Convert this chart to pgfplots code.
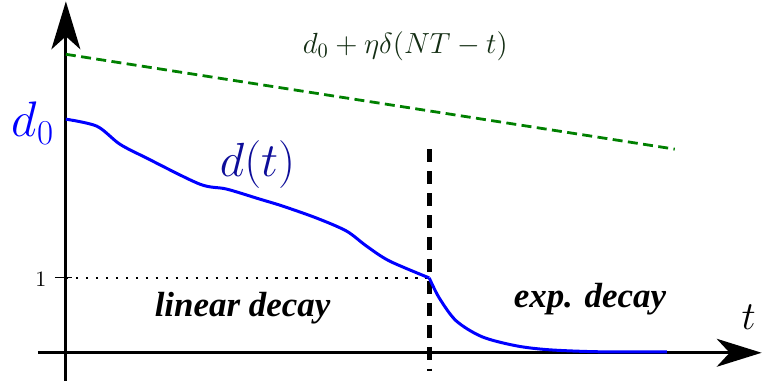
\RequirePackage{fix-cm}
\documentclass[border=0pt]{standalone}
\usepackage{fontspec}
\newfontfamily\timesfont{Liberation Serif}
\usepackage{pgfplots}
\pgfplotsset{compat=1.18}
\usetikzlibrary{arrows.meta}

\definecolor{dblue}{rgb}{0.05,0.05,0.6}
\definecolor{dgreen}{rgb}{0,0.5,0}
\definecolor{fgreen}{rgb}{0.08,0.18,0.08}

\begin{document}
\begin{tikzpicture}
\begin{axis}[
    scale only axis,
    width=381.5pt, height=191.5pt,
    xmin=-66, xmax=697,
    ymin=-31, ymax=352,
    hide axis,
    clip=false,
]
% frame the picture
\addplot[draw=none] coordinates {(-66,-31) (697,352)};
% axes
\addplot[black, line width=1.4pt, -{Stealth[length=22.5pt,width=14pt,inset=6.5pt]}]
    coordinates {(-28,0) (697,0)};
\addplot[black, line width=1.4pt, -{Stealth[length=24pt,width=14.5pt,inset=6.5pt]}]
    coordinates {(0,-28) (0,352)};
% upper bound
\addplot[dgreen, line width=1.4pt, dash pattern=on 5pt off 2.7pt]
    coordinates {(0,299) (610,204)};
% level 1
\addplot[black, line width=1.3pt, dash pattern=on 1.3pt off 3.7pt]
    coordinates {(0,75) (364,75)};
\addplot[black, line width=0.5pt] coordinates {(-11,75) (6,75)};
% switch time
\addplot[black, line width=2.5pt, dash pattern=on 6.5pt off 4.5pt]
    coordinates {(364,204) (364,-18)};
% d(t), linear part
\addplot[blue, line width=1.5pt, smooth, tension=0.5] coordinates {
    (0,234) (31,227) (54,209) (81,195) (134,169) (161,164) (194,154)
    (217,147) (251,135) (281,122) (301,107) (324,92) (364,75)
};
% d(t), exponential part
\addplot[blue, line width=1.5pt, smooth, tension=0.5] coordinates {
    (364,75) (374,55) (391,32) (417,16) (451,7) (484,3) (534,1) (602,1)
};
% labels
\node[blue, font=\fontsize{25}{29}\selectfont] at (axis cs:-33,230) {$d_0$};
\node[dblue, font=\fontsize{24}{28}\selectfont] at (axis cs:192,189) {$d(t)$};
\node[fgreen, font=\fontsize{14.6}{17}\selectfont] at (axis cs:340,307) {$d_0+\eta\delta(NT-t)$};
\node[font=\fontsize{11}{13}\selectfont] at (axis cs:-25,73) {$1$};
\node[font=\timesfont\bfseries\itshape\fontsize{17.5}{20}\selectfont] at (axis cs:177,45) {linear decay};
\node[font=\timesfont\bfseries\itshape\fontsize{17.5}{20}\selectfont] at (axis cs:525,54) {exp. decay};
\node[font=\fontsize{20}{24}\selectfont] at (axis cs:684,36) {$t$};
\end{axis}
\end{tikzpicture}
\end{document}
